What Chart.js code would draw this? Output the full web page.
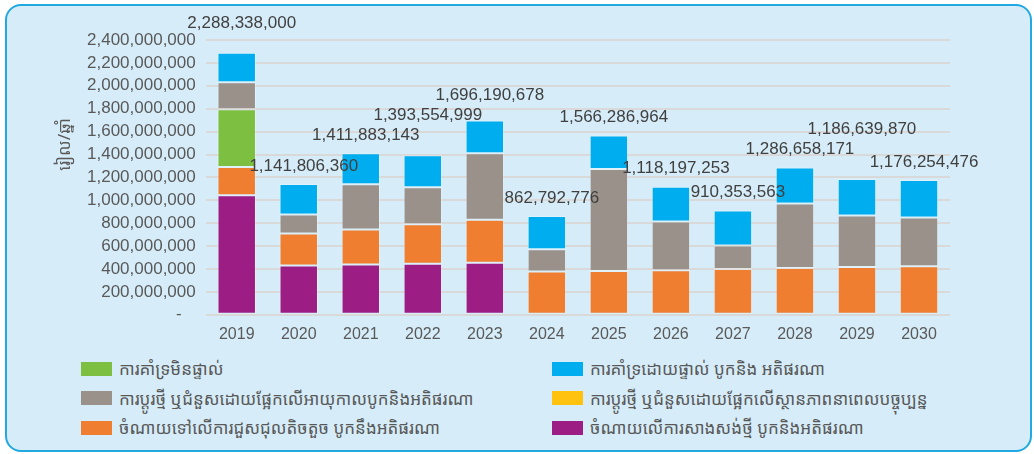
<!DOCTYPE html>
<html>
<head>
<meta charset="utf-8">
<script src="https://cdn.jsdelivr.net/npm/chart.js@4/dist/chart.umd.min.js"></script>
<style>
  body { margin: 0; background: #ffffff; width: 1034px; height: 454px; position: relative; overflow: hidden; }
  #panel { position: absolute; left: 5px; top: 4px; width: 1027px; height: 448px; box-sizing: border-box;
           border: 2px solid #22a9e1; border-radius: 16px; background: #d6edf9; }
  #wrap { position: absolute; left: 0; top: 0; width: 1034px; height: 354px; }
  #legend { position: absolute; left: 81px; top: 354px; width: 940px;
            display: grid; grid-template-columns: 471px 460px; row-gap: 0; }
  .item { display: flex; align-items: center; height: 29.5px; font-family: "Noto Sans Khmer", "Khmer OS", "DejaVu Sans", sans-serif;
          font-size: 17px; color: #595959; white-space: nowrap; }
  .box { width: 31px; height: 14px; margin-right: 7px; flex: none; }
</style>
</head>
<body>
<div id="panel"></div>
<div id="wrap"><canvas id="bars" width="1034" height="354"></canvas></div>
<div id="legend"></div>
<script>
var years = ["2019", "2020", "2021", "2022", "2023", "2024", "2025", "2026", "2027", "2028", "2029", "2030"];

// stacked bottom to top
var newBuild   = [1045000000, 430000000, 440000000, 445000000, 455000000, 0, 0, 0, 0, 0, 0, 0];
var minorRepair = [245000000, 280000000, 305000000, 345000000, 375000000, 378000000, 383000000, 390000000, 400000000, 408000000, 417000000, 425000000];
var indirect   = [505000000, 0, 0, 0, 0, 0, 0, 0, 0, 0, 0, 0];
var ageReplace = [235000000, 165000000, 395000000, 325000000, 580000000, 195000000, 890000000, 425000000, 205000000, 565000000, 450000000, 425000000];
var direct     = [258338000, 266806360, 271883143, 278554999, 286190678, 289792776, 293286964, 303197253, 305353563, 313658171, 319639870, 326254476];
var condReplace = [0, 0, 0, 0, 0, 0, 0, 0, 0, 0, 0, 0];

var yTitle = "រៀល/ឆ្នាំ";
var legendOrder = ["indirect", "direct", "age", "cond", "minor", "build"];

var series = {
  build:  { label: "ចំណាយលើការសាងសង់ថ្មី បូកនិងអតិផរណា", data: newBuild, color: "#9c1d83" },
  minor:  { label: "ចំណាយទៅលើការជួសជុលតិចតួច បូកនឹងអតិផរណា", data: minorRepair, color: "#ef7e31" },
  indirect: { label: "ការគាំទ្រមិនផ្ទាល់", data: indirect, color: "#7dbf40" },
  age:    { label: "ការប្តូរថ្មី ឬជំនួសដោយផ្អែកលើអាយុកាលបូកនិងអតិផរណា", data: ageReplace, color: "#9a918a" },
  direct: { label: "ការគាំទ្រដោយផ្ទាល់ បូកនិង អតិផរណា", data: direct, color: "#00aeef" },
  cond:   { label: "ការប្តូរថ្មី ឬជំនួសដោយផ្អែកលើស្ថានភាពនាពេលបច្ចុប្បន្ន", data: condReplace, color: "#ffc20e" }
};

var stackOrder = ["build", "minor", "indirect", "age", "direct", "cond"];

var datasets = stackOrder.map(function(k) {
  return {
    label: series[k].label,
    data: series[k].data,
    backgroundColor: series[k].color,
    borderColor: "rgba(255,255,255,0.25)",
    borderWidth: 1,
    borderSkipped: false,
    barPercentage: 1,
    categoryPercentage: 0.62
  };
});

function fmt(v) {
  return v.toLocaleString("en-US");
}

// totals on top of each stack, nudged up when they bump into the previous one
var totalLabels = {
  id: "totalLabels",
  afterDatasetsDraw: function(chart) {
    var ctx = chart.ctx;
    ctx.save();
    ctx.font = "17px 'Liberation Sans', Arial, sans-serif";
    ctx.fillStyle = "#404040";
    ctx.textAlign = "center";
    ctx.textBaseline = "middle";
    var prev = null;
    years.forEach(function(y, i) {
      var total = 0;
      var topY = chart.scales.y.bottom;
      var x = 0;
      chart.data.datasets.forEach(function(ds, d) {
        total += ds.data[i];
        var el = chart.getDatasetMeta(d).data[i];
        x = el.x;
        if (ds.data[i] > 0) topY = Math.min(topY, el.y);
      });
      var text = fmt(total);
      var w = ctx.measureText(text).width;
      var lx = x + 5;
      var ly = topY - 18;
      if (prev && Math.abs(prev.x - lx) < (prev.w + w) / 2 && Math.abs(prev.y - ly) < 18) {
        ly = prev.y - 20;
      }
      // keep clear of the top tick label
      if (ly < chart.chartArea.top + 8) ly = chart.chartArea.top - 17;
      ctx.fillText(text, lx, ly);
      prev = { x: lx, y: ly, w: w };
    });
    ctx.restore();
  }
};

var axisTitle = {
  id: "axisTitle",
  afterDraw: function(chart) {
    var ctx = chart.ctx;
    var a = chart.chartArea;
    ctx.save();
    ctx.translate(chart.scales.y.left - 12, a.top + (a.bottom - a.top) * 0.38);
    ctx.rotate(-Math.PI / 2);
    ctx.font = "17px 'Noto Sans Khmer', 'Khmer OS', 'DejaVu Sans', sans-serif";
    ctx.fillStyle = "#595959";
    ctx.textAlign = "center";
    ctx.textBaseline = "middle";
    ctx.fillText(yTitle, 0, 0);
    ctx.restore();
  }
};

new Chart(document.getElementById("bars"), {
  type: "bar",
  data: { labels: years, datasets: datasets },
  plugins: [totalLabels, axisTitle],
  options: {
    responsive: false,
    animation: false,
    layout: { padding: { left: 77, right: 84, top: 40, bottom: 8 } },
    plugins: { legend: { display: false }, tooltip: { enabled: false } },
    scales: {
      x: {
        stacked: true,
        grid: { display: false },
        border: { display: false },
        ticks: { color: "#595959", padding: 2, font: { size: 16, family: "'Liberation Sans', Arial, sans-serif" } }
      },
      y: {
        stacked: true,
        min: 0,
        max: 2400000000,
        grid: { color: "#d9d9d9", lineWidth: 2, drawTicks: false },
        border: { display: false },
        ticks: {
          stepSize: 200000000,
          autoSkip: false,
          padding: 10,
          color: "#595959",
          font: { size: 17, family: "'Liberation Sans', Arial, sans-serif" },
          callback: function(v) { return v === 0 ? "-   " : fmt(v); }
        }
      }
    }
  }
});

// legend in two columns like the original
var legend = document.getElementById("legend");
legendOrder.forEach(function(k) {
  var item = document.createElement("div");
  item.className = "item";
  var box = document.createElement("span");
  box.className = "box";
  box.style.background = series[k].color;
  item.appendChild(box);
  item.appendChild(document.createTextNode(series[k].label));
  legend.appendChild(item);
});
</script>
</body>
</html>
